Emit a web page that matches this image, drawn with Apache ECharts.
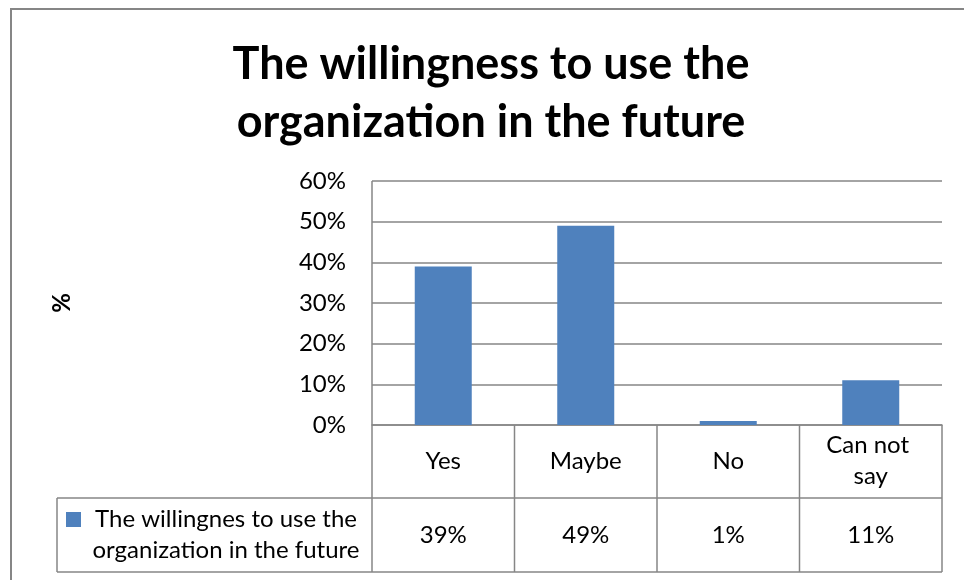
<!DOCTYPE html>
<html>
<head>
<meta charset="utf-8">
<script src="https://cdn.jsdelivr.net/npm/echarts@6/dist/echarts.min.js"></script>
<style>
  html, body { margin: 0; padding: 0; background: #fff; }
  #chart { width: 964px; height: 580px; }
</style>
</head>
<body>
<div id="chart"></div>
<script>
// Survey answers and their shares
const categories = ['Yes', 'Maybe', 'No', 'Can not say'];
const shares = [0.39, 0.49, 0.01, 0.11];
const seriesName = 'The willingnes to use the organization in the future';
const yTicks = [0, 0.1, 0.2, 0.3, 0.4, 0.5, 0.6];

const FONT = 'Lato, "Open Sans", sans-serif';
const SIZE = 24;
const LINE = '#868686';
const BAR = '#4F81BD';

// plot area and data-table geometry
const G = { left: 372, top: 181, width: 570, height: 244 };
const ROW1 = 73, ROW2 = 74, LEGEND_LEFT = 57;

const pct = v => Math.round(v * 100) + '%';

const chart = echarts.init(document.getElementById('chart'), null, { renderer: 'canvas' });

function tableGraphics() {
  const els = [];
  const x0 = G.left, x1 = G.left + G.width;
  const yAxisY = G.top + G.height;
  const yMid = yAxisY + ROW1;
  const yBot = yMid + ROW2;
  const colW = G.width / categories.length;
  const line = (xa, ya, xb, yb) => els.push({
    type: 'line', shape: { x1: xa, y1: ya, x2: xb, y2: yb },
    style: { stroke: LINE, lineWidth: 1.5 }, z: 10
  });
  // chart frame
  els.push({ type: 'rect', shape: { x: 11, y: 9, width: 1000, height: 620 },
    style: { fill: 'none', stroke: LINE, lineWidth: 2 }, z: 1 });
  // horizontal table rules
  line(LEGEND_LEFT, yMid, x1, yMid);
  line(LEGEND_LEFT, yBot, x1, yBot);
  // vertical table rules
  line(LEGEND_LEFT, yMid, LEGEND_LEFT, yBot);
  line(x0, G.top, x0, yBot);
  for (let i = 1; i <= categories.length; i++) {
    line(x0 + i * colW, yAxisY, x0 + i * colW, yBot);
  }
  // legend key inside the table
  els.push({ type: 'rect', shape: { x: 66, y: 512, width: 15, height: 15 },
    style: { fill: BAR }, z: 10 });
  const words = seriesName.split(' ');
  const first = words.slice(0, 5).join(' ');
  const second = words.slice(5).join(' ');
  els.push({ type: 'text', x: 226, y: yMid + ROW2 / 2, z: 10,
    style: { text: first + '\n' + second, font: SIZE + 'px ' + FONT, fill: '#000',
      align: 'center', verticalAlign: 'middle', lineHeight: 31 } });
  return els;
}

chart.setOption({
  animation: false,
  backgroundColor: '#fff',
  title: {
    text: 'The willingness to use the\norganization in the future',
    left: 486, top: 30, textAlign: 'center',
    textStyle: { fontFamily: FONT, fontWeight: 'bold', fontSize: 45, lineHeight: 58, color: '#000' }
  },
  grid: G,
  xAxis: [
    {
      type: 'category', data: categories, position: 'bottom',
      axisLine: { show: true, lineStyle: { color: LINE, width: 1.5 } },
      axisTick: { show: false },
      axisLabel: { interval: 0, fontFamily: FONT, fontSize: SIZE, color: '#000',
        margin: 36, verticalAlign: 'middle', lineHeight: 31, width: 100, overflow: 'break' },
      splitLine: { show: false }
    },
    {
      type: 'category', data: categories, position: 'bottom',
      axisLine: { show: false }, axisTick: { show: false },
      axisLabel: { interval: 0, fontFamily: FONT, fontSize: SIZE, color: '#000',
        margin: 110, verticalAlign: 'middle',
        formatter: (v, i) => pct(shares[i]) }
    }
  ],
  yAxis: {
    type: 'value', min: yTicks[0], max: yTicks[yTicks.length - 1], interval: 0.1,
    name: '%', nameLocation: 'middle', nameGap: 298, nameRotate: 90,
    nameTextStyle: { fontFamily: FONT, fontWeight: 'bold', fontSize: SIZE, color: '#000' },
    axisLine: { show: false },
    axisTick: { show: false },
    axisLabel: { fontFamily: FONT, fontSize: SIZE, color: '#000', margin: 26, formatter: v => pct(v) },
    splitLine: { lineStyle: { color: LINE, width: 1.5 } }
  },
  series: [{
    name: seriesName, type: 'bar', data: shares, barWidth: '40%',
    itemStyle: { color: BAR }
  }],
  graphic: tableGraphics()
});
</script>
</body>
</html>
